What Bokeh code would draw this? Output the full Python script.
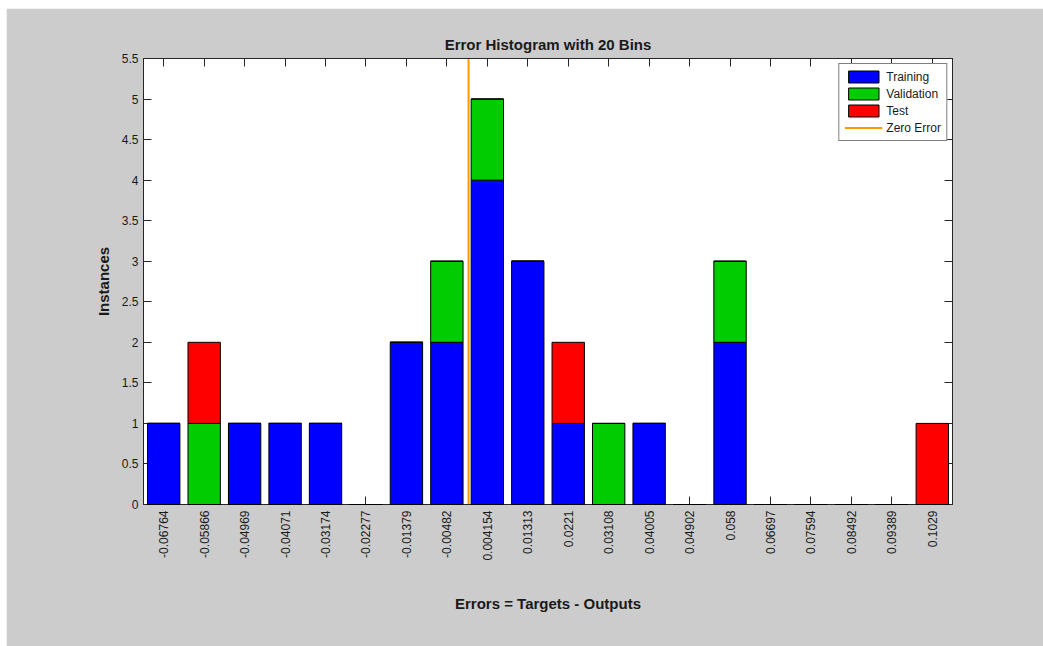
from bokeh.plotting import figure
from bokeh.models import (LinearAxis, FixedTicker, CustomJSTickFormatter, Legend,
                          LegendItem, Range1d)
from bokeh.embed import file_html
from bokeh.resources import INLINE

# ---------------- data ----------------
bin_labels = ["-0.06764", "-0.05866", "-0.04969", "-0.04071", "-0.03174", "-0.02277",
              "-0.01379", "-0.00482", "0.004154", "0.01313", "0.0221", "0.03108",
              "0.04005", "0.04902", "0.058", "0.06697", "0.07594", "0.08492",
              "0.09389", "0.1029"]
training = [1, 0, 1, 1, 1, 0, 2, 2, 4, 3, 1, 0, 1, 0, 2, 0, 0, 0, 0, 0]
validation = [0, 1, 0, 0, 0, 0, 0, 1, 1, 0, 0, 1, 0, 0, 1, 0, 0, 0, 0, 0]
test = [0, 1, 0, 0, 0, 0, 0, 0, 0, 0, 1, 0, 0, 0, 0, 0, 0, 0, 0, 1]
y_ticks = [0, 0.5, 1, 1.5, 2, 2.5, 3, 3.5, 4, 4.5, 5, 5.5]
zero_error = 0.0

n = len(bin_labels)
idx = list(range(n))
first_center = float(bin_labels[0])
last_center = float(bin_labels[-1])
step = (last_center - first_center) / (n - 1)
zero_idx = (zero_error - first_center) / step

FONT = "Liberation Sans"
GRAY = "#cccccc"
TXT = "#1a1a1a"

p = figure(width=1037, height=638, output_backend="svg", toolbar_location=None,
           x_range=Range1d(-0.5, n - 0.5), y_range=Range1d(0, 5.5),
           x_axis_location=None, y_axis_location=None,
           min_border_left=137, min_border_right=91, min_border_top=50, min_border_bottom=142,
           background_fill_color="white", border_fill_color=GRAY)
p.margin = (8, 0, 0, 6)
p.grid.visible = False
p.outline_line_color = "#262626"

# title
p.title.text = "Error Histogram with 20 Bins"
p.title.text_font = FONT
p.title.text_font_size = "15px"
p.title.text_font_style = "bold"
p.title.text_color = TXT
p.title.align = "center"
p.title.standoff = 11

src = dict(x=idx, Training=training, Validation=validation, Test=test)
rs = p.vbar_stack(["Training", "Validation", "Test"], x="x", width=0.8, source=src,
                  color=["#0000ff", "#00cc00", "#ff0000"], line_color="black", line_width=1)
for r in rs:
    r.level = "annotation"

zl = p.line(x=[zero_idx, zero_idx], y=[0, 5.5], line_color="#ff9900", line_width=2)

blank = CustomJSTickFormatter(code="return '';")

# axes
def style_axis(ax):
    ax.major_tick_in = 8
    ax.major_tick_out = 0
    ax.minor_tick_line_color = None
    ax.axis_line_color = "#262626"
    ax.major_tick_line_color = "#262626"
    ax.major_label_text_font = FONT
    ax.major_label_text_font_size = "12px"
    ax.major_label_text_color = TXT
    ax.axis_label_text_font = FONT
    ax.axis_label_text_font_size = "15px"
    ax.axis_label_text_font_style = "bold"
    ax.axis_label_text_color = TXT

xb = LinearAxis(ticker=FixedTicker(ticks=idx),
                major_label_overrides={i: l for i, l in zip(idx, bin_labels)},
                major_label_orientation=1.5707963,
                axis_label="Errors = Targets - Outputs")
style_axis(xb)
xb.major_label_standoff = 6
xb.axis_label_standoff = 31
p.add_layout(xb, "below")

xt = LinearAxis(ticker=FixedTicker(ticks=idx), formatter=blank)
style_axis(xt)
xt.major_label_standoff = 0
p.add_layout(xt, "above")

fmt = CustomJSTickFormatter(code="return tick.toString();")
yl = LinearAxis(ticker=FixedTicker(ticks=y_ticks), formatter=fmt, axis_label="Instances")
style_axis(yl)
yl.major_label_standoff = 5
yl.axis_label_standoff = 7
p.add_layout(yl, "left")

yr = LinearAxis(ticker=FixedTicker(ticks=y_ticks), formatter=blank)
style_axis(yr)
yr.major_label_standoff = 0
p.add_layout(yr, "right")

legend = Legend(items=[LegendItem(label="Training", renderers=[rs[0]]),
                       LegendItem(label="Validation", renderers=[rs[1]]),
                       LegendItem(label="Test", renderers=[rs[2]]),
                       LegendItem(label="Zero Error", renderers=[zl])],
                location="top_right", margin=5, padding=5, spacing=2,
                glyph_width=38, glyph_height=15, label_standoff=4,
                label_text_font=FONT, label_text_font_size="12px", label_text_color=TXT,
                label_height=15,
                border_line_color="black", background_fill_color="white",
                background_fill_alpha=1.0)
p.add_layout(legend)

html = file_html(p, INLINE)
html = html.replace("<head>", "<head><style>body{margin:0;background:white;}</style>", 1)
open("out.html", "w").write(html)
